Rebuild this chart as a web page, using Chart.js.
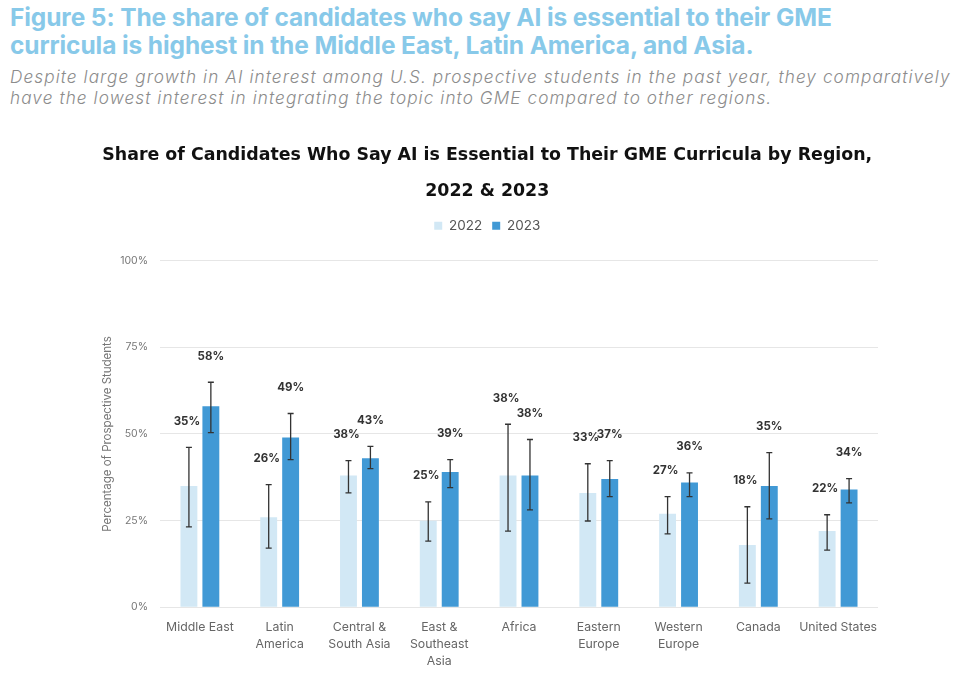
<!DOCTYPE html>
<html>
<head>
<meta charset="utf-8">
<script src="https://cdn.jsdelivr.net/npm/chart.js@4.4.1/dist/chart.umd.min.js"></script>
<style>
  html, body { margin: 0; padding: 0; background: #ffffff; }
  body { width: 960px; height: 677px; position: relative; overflow: hidden; font-family: Inter, "Open Sans", sans-serif; }
  #fig-title { position: absolute; left: 10px; top: 3px; font-size: 24.5px; line-height: 28px; font-weight: 700; color: #88c9e9; letter-spacing: -0.1px; }
  #fig-sub { position: absolute; left: 10px; top: 66px; font-size: 17.2px; line-height: 21px; font-style: italic; color: #8c8c8c; font-weight: 300; letter-spacing: 1.08px; }
  #wrap { position: absolute; left: 0; top: 120px; width: 960px; height: 557px; }
</style>
</head>
<body>
<div id="fig-title">Figure 5: The share of candidates who say AI is essential to their GME<br>curricula is highest in the Middle East, Latin America, and Asia.</div>
<div id="fig-sub">Despite large growth in AI interest among U.S. prospective students in the past year, they comparatively<br>have the lowest interest in integrating the topic into GME compared to other regions.</div>
<div id="wrap"><canvas id="c" width="960" height="557"></canvas></div>
<script>
// ---- data ----
const categories = [
  ['Middle East'], ['Latin', 'America'], ['Central &', 'South Asia'], ['East &', 'Southeast', 'Asia'],
  ['Africa'], ['Eastern', 'Europe'], ['Western', 'Europe'], ['Canada'], ['United States']
];
const seriesNames = ['2022', '2023'];
const values2022 = [35, 26, 38, 25, 38, 33, 27, 18, 22];
const values2023 = [58, 49, 43, 39, 38, 37, 36, 35, 34];
const errLow2022  = [23.2, 17.1, 33.0, 19.1, 22.0, 24.9, 21.2, 7.0, 16.5];
const errHigh2022 = [46.1, 35.4, 42.3, 30.4, 52.8, 41.4, 31.9, 29.0, 26.7];
const errLow2023  = [50.4, 42.6, 40.0, 34.5, 28.1, 31.9, 31.9, 25.5, 30.1];
const errHigh2023 = [64.9, 55.9, 46.4, 42.6, 48.4, 42.3, 38.8, 44.6, 37.1];
const yTicks = [0, 25, 50, 75, 100];

const errLow = [errLow2022, errLow2023];
const errHigh = [errHigh2022, errHigh2023];

const FONT = 'Inter, "Open Sans", sans-serif';

const legendSpacer = {
  id: 'legendSpacer',
  beforeInit(chart) {
    const orig = chart.legend.fit;
    chart.legend.fit = function () {
      orig.bind(chart.legend)();
      this.height += 18;
    };
  }
};

const errorBars = {
  id: 'errorBars',
  afterDatasetsDraw(chart) {
    const ctx = chart.ctx;
    const y = chart.scales.y;
    ctx.save();
    chart.data.datasets.forEach((ds, i) => {
      const meta = chart.getDatasetMeta(i);
      meta.data.forEach((bar, j) => {
        const x = bar.x;
        const yl = y.getPixelForValue(errLow[i][j]);
        const yh = y.getPixelForValue(errHigh[i][j]);
        ctx.strokeStyle = '#333333';
        ctx.lineWidth = 1.3;
        ctx.beginPath();
        ctx.moveTo(x, yl); ctx.lineTo(x, yh);
        ctx.moveTo(x - 3, yl); ctx.lineTo(x + 3, yl);
        ctx.moveTo(x - 3, yh); ctx.lineTo(x + 3, yh);
        ctx.stroke();
        ctx.fillStyle = '#333333';
        ctx.font = 'bold 11.5px ' + FONT;
        ctx.textAlign = 'center';
        ctx.textBaseline = 'middle';
        ctx.fillText(Math.round(ds.data[j]) + '%', x + (i === 0 ? -2 : 0), yh - 26);
      });
    });
    ctx.restore();
  }
};

new Chart(document.getElementById('c'), {
  type: 'bar',
  data: {
    labels: categories,
    datasets: [
      { label: seriesNames[0], data: values2022, backgroundColor: '#d2e8f5', categoryPercentage: 0.55, barPercentage: 0.77 },
      { label: seriesNames[1], data: values2023, backgroundColor: '#4199d5', categoryPercentage: 0.55, barPercentage: 0.77 }
    ]
  },
  options: {
    responsive: false,
    animation: false,
    layout: { padding: { left: 96.5, right: 82, top: 0, bottom: 4 } },
    plugins: {
      title: {
        display: true,
        text: ['Share of Candidates Who Say AI is Essential to Their GME Curricula by Region,', '2022 & 2023'],
        color: '#111111',
        font: { family: '"DejaVu Sans", sans-serif', size: 17.4, weight: 'bold', lineHeight: 2.07 },
        padding: { top: 17, bottom: 0 }
      },
      legend: {
        display: true,
        labels: {
          color: '#555555',
          font: { family: FONT, size: 13.5 },
          boxWidth: 8, boxHeight: 8, padding: 10
        }
      },
      tooltip: { enabled: false }
    },
    scales: {
      x: {
        grid: { display: false },
        border: { display: false },
        ticks: { color: '#666666', font: { family: FONT, size: 12.3, lineHeight: 1.4 }, padding: 3, maxRotation: 0, autoSkip: false }
      },
      y: {
        min: 0, max: 100,
        afterBuildTicks(scale) { scale.ticks = yTicks.map(v => ({ value: v })); },
        afterFit(scale) { scale.width = 63.5; },
        grid: { color: '#e6e6e6', drawTicks: false },
        border: { display: false },
        ticks: { color: '#777777', font: { family: FONT, size: 10.5 }, padding: 12, callback: v => v + '%' },
        title: { display: true, text: 'Percentage of Prospective Students', color: '#777777', font: { family: FONT, size: 11.5 }, padding: { top: 4, bottom: 4 } }
      }
    }
  },
  plugins: [legendSpacer, errorBars]
});
</script>
</body>
</html>
